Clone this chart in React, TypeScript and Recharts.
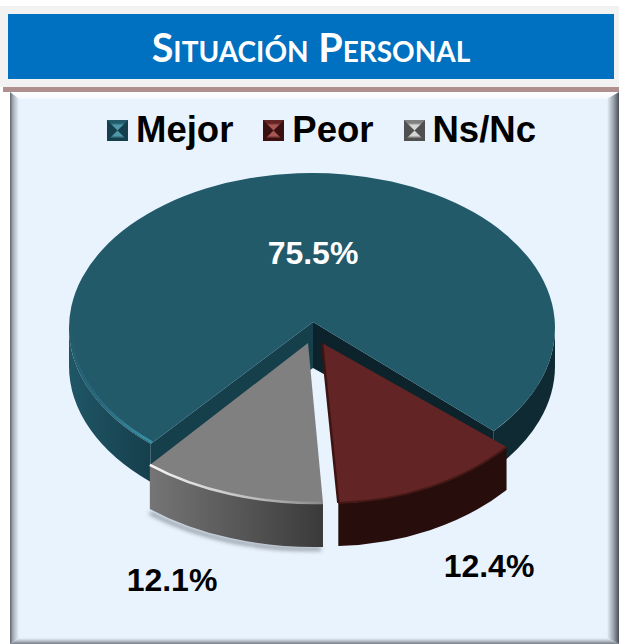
import React from "react";
import { PieChart, Pie, Cell, Legend } from "recharts";

const W = 619;
const H = 644;

const categories = ["Mejor", "Peor", "Ns/Nc"];
const values = [75.5, 12.4, 12.1];
const topColors = ["#225A6A", "#622424", "#808080"];
const legendLight = ["#4F98AA", "#A85654", "#D4D4D4"];
const legendDark = ["#153F4C", "#3A1110", "#505050"];

const chartData = categories.map((name, i) => ({ name, value: values[i] }));

// perspective-corrected outline of each slice, relative to the pie centre
const GEOM = [
  { ax: 1, ay: -6, ex: 0, ey: 0, rx: 243, ry: 155, depth: 38, endTweak: 1.8 },
  { ax: 10, ay: 15, ex: 18, ey: -4, rx: 243, ry: 179, depth: 43, endTweak: 0 },
  { ax: -4, ay: 15, ex: 2.5, ey: 24, rx: 248, ry: 151, depth: 44, endTweak: 0 },
];
const LABEL_OFFSET = [
  { dx: 1, dy: -75, fill: "#FFFFFF" },
  { dx: 177, dy: 238, fill: "#000000" },
  { dx: -140, dy: 252, fill: "#000000" },
];

type G = { cx: number; cy: number; rx: number; ry: number };
const pt = (g: G, a: number): [number, number] => {
  const r = (a * Math.PI) / 180;
  return [g.cx + g.rx * Math.cos(r), g.cy - g.ry * Math.sin(r)];
};
const arcTo = (g: G, a1: number, a2: number, dy = 0) => {
  const [x, y] = pt(g, a2);
  const large = Math.abs(a1 - a2) > 180 ? 1 : 0;
  const sweep = a1 > a2 ? 1 : 0;
  return `A ${g.rx} ${g.ry} 0 ${large} ${sweep} ${x} ${y + dy}`;
};
const wall = (g: G, a1: number, a2: number, d: number) => {
  const [x1, y1] = pt(g, a1);
  const [x2, y2] = pt(g, a2);
  return `M ${x1} ${y1} ${arcTo(g, a1, a2)} L ${x2} ${y2 + d} ${arcTo(g, a2, a1, d)} Z`;
};

const SliceShape = (props: any) => {
  const { cx, cy, startAngle, fill } = props;
  const index = categories.indexOf(props.name ?? props.payload?.name);
  const s = GEOM[index];
  const endAngle = props.endAngle + s.endTweak;
  const g: G = { cx: cx + s.ex, cy: cy + s.ey, rx: s.rx, ry: s.ry };
  const apex: [number, number] = [cx + s.ax, cy + s.ay];
  const [sx, sy] = pt(g, startAngle);
  const [ex, ey] = pt(g, endAngle);
  const top = `M ${apex[0]} ${apex[1]} L ${sx} ${sy} ${arcTo(g, startAngle, endAngle)} Z`;

  if (index === 0) {
    const inset: G = { ...g, rx: g.rx - 2, ry: g.ry - 2 };
    const [hx, hy] = pt(inset, startAngle);
    return (
      <g>
        <defs>
          <linearGradient id="mainLeft" x1="0" x2="1" y1="0" y2="0">
            <stop offset="0" stopColor="#1F5666" />
            <stop offset="1" stopColor="#163F4C" />
          </linearGradient>
          <linearGradient id="mainHi" x1="1" x2="0" y1="1" y2="0">
            <stop offset="0" stopColor="#3A93AA" />
            <stop offset="0.45" stopColor="#2A6C80" />
            <stop offset="1" stopColor="#225A6A" />
          </linearGradient>
          <filter id="soft" x="-5%" y="-5%" width="110%" height="110%">
            <feGaussianBlur stdDeviation="0.7" />
          </filter>
        </defs>
        <path d={wall(g, startAngle, 180, s.depth)} fill="url(#mainLeft)" />
        <path d={wall(g, 0, endAngle, s.depth)} fill="#0F2A33" />
        <path
          d={`M ${apex[0]} ${apex[1]} L ${sx} ${sy} L ${sx} ${sy + s.depth} L ${apex[0]} ${apex[1] + 46} Z`}
          fill="#163F4C"
        />
        <path
          d={`M ${apex[0]} ${apex[1]} L ${ex} ${ey} L ${ex} ${ey + s.depth} L ${apex[0]} ${apex[1] + 46} Z`}
          fill="#0C232B"
        />
        <path d={top} fill={fill} />
        <path
          d={`M ${hx} ${hy} ${arcTo(inset, startAngle, 178)}`}
          fill="none"
          stroke="url(#mainHi)"
          strokeWidth={2.5}
          filter="url(#soft)"
        />
      </g>
    );
  }

  if (index === 1) {
    return (
      <g>
        <path d={wall(g, startAngle, endAngle, s.depth)} fill="#270D0B" />
        <path d={top} fill={fill} />
        <path
          d={`M ${apex[0]} ${apex[1]} L ${ex} ${ey}`}
          stroke="#3C1412"
          strokeWidth={2.5}
          fill="none"
        />
        <path
          d={`M ${sx} ${sy} ${arcTo(g, startAngle, endAngle)}`}
          stroke="#451917"
          strokeWidth={2}
          fill="none"
        />
      </g>
    );
  }

  return (
    <g>
      <defs>
        <linearGradient id="graySide" x1="0" x2="1" y1="0" y2="0">
          <stop offset="0" stopColor="#757575" />
          <stop offset="0.5" stopColor="#585858" />
          <stop offset="1" stopColor="#3A3A3A" />
        </linearGradient>
        <linearGradient id="grayHi" x1="0" x2="1" y1="0" y2="0">
          <stop offset="0" stopColor="#F5F5F5" />
          <stop offset="0.6" stopColor="#BDBDBD" />
          <stop offset="1" stopColor="#8A8A8A" />
        </linearGradient>
        <filter id="grayShadow" x="-10%" y="-50%" width="120%" height="200%">
          <feGaussianBlur stdDeviation="2" />
        </filter>
        <filter id="graySoft" x="-5%" y="-20%" width="110%" height="140%">
          <feGaussianBlur stdDeviation="0.7" />
        </filter>
      </defs>
      <path
        d={`M ${sx - 2} ${sy + s.depth + 2} ${arcTo(g, startAngle, endAngle, s.depth + 4)}`}
        fill="none"
        stroke="#5A6068"
        strokeOpacity={0.75}
        strokeWidth={3}
        filter="url(#grayShadow)"
      />
      <path d={wall(g, startAngle, endAngle, s.depth)} fill="url(#graySide)" />
      <path d={top} fill={fill} />
      <path
        d={`M ${sx} ${sy} ${arcTo(g, startAngle, endAngle)}`}
        stroke="url(#grayHi)"
        strokeWidth={2.5}
        fill="none"
        filter="url(#graySoft)"
      />
    </g>
  );
};

const renderLabel = (props: any) => {
  const { cx, cy, value, index } = props;
  const o = LABEL_OFFSET[index];
  return (
    <text
      x={cx + o.dx}
      y={cy + o.dy}
      fill={o.fill}
      textAnchor="middle"
      dominantBaseline="central"
      fontFamily="'Liberation Sans', Arial, sans-serif"
      fontWeight={700}
      fontSize={32}
    >
      {`${Number(value).toFixed(1)}%`}
    </text>
  );
};

const LegendIcon = ({ i }: { i: number }) => {
  const id = `li${i}`;
  return (
    <svg width={21} height={21} style={{ display: "block" }}>
      <defs>
        <linearGradient id={`${id}t`} x1="0" x2="0" y1="0" y2="1">
          <stop offset="0" stopColor={topColors[i]} />
          <stop offset="0.3" stopColor={topColors[i]} />
          <stop offset="0.5" stopColor={legendLight[i]} />
        </linearGradient>
        <linearGradient id={`${id}b`} x1="0" x2="0" y1="1" y2="0">
          <stop offset="0" stopColor={legendDark[i]} />
          <stop offset="0.25" stopColor={legendDark[i]} />
          <stop offset="0.5" stopColor={legendLight[i]} />
        </linearGradient>
      </defs>
      <rect width={21} height={21} fill={legendDark[i]} />
      <polygon points="0,0 21,0 10.5,10.5" fill={`url(#${id}t)`} />
      <polygon points="0,21 21,21 10.5,10.5" fill={`url(#${id}b)`} />
    </svg>
  );
};

const renderLegend = (props: any) => {
  const items = props.payload ?? [];
  return (
    <div style={{ display: "flex", justifyContent: "center", alignItems: "center", gap: 30 }}>
      {items.map((it: any) => (
        <div key={it.value} style={{ display: "flex", alignItems: "center", gap: 8 }}>
          <LegendIcon i={categories.indexOf(it.value)} />
          <span
            style={{
              fontFamily: "'Liberation Sans', Arial, sans-serif",
              fontWeight: 700,
              fontSize: 36.5,
              lineHeight: "40px",
              color: "#000",
            }}
          >
            {it.value}
          </span>
        </div>
      ))}
    </div>
  );
};

const box = (s: React.CSSProperties): React.CSSProperties => ({ position: "absolute", ...s });

export default function App() {
  return (
    <div style={box({ left: 0, top: 0, width: W, height: H, overflow: "hidden", background: "#FFFFFF" })}>
      <div style={box({ left: 0, top: 6, width: W, height: 81, background: "#F2F2F2" })} />
      <div
        style={box({
          left: 8,
          top: 14,
          width: 606,
          height: 65,
          background: "#0070C0",
          color: "#FFFFFF",
          textAlign: "center",
          fontFamily: "Lato, sans-serif",
          fontWeight: 700,
          fontSize: 39.5,
          lineHeight: "66px",
          fontVariant: "small-caps",
        })}
      >
        Situación Personal
      </div>
      <div style={box({ left: 3, top: 87, width: 616, height: 5, background: "#B08F8F" })} />
      <div style={box({ left: 10, top: 92, width: 609, height: 552, background: "#E8F3FE" })} />
      <div
        style={box({
          left: 10,
          top: 92,
          width: 609,
          height: 7,
          background: "linear-gradient(#FFFFFF,#F4F9FF)",
          clipPath: "polygon(0 0,100% 0,calc(100% - 12px) 100%,9px 100%)",
        })}
      />
      <div
        style={box({
          left: 10,
          top: 92,
          width: 9,
          height: 552,
          background: "linear-gradient(90deg,#5F6670,#A8AEB6 35%,#E8F3FE)",
          clipPath: "polygon(0 0,100% 7px,100% calc(100% - 6px),0 100%)",
        })}
      />
      <div
        style={box({
          left: 607,
          top: 92,
          width: 12,
          height: 552,
          background: "linear-gradient(270deg,#4A4F57,#9AA1AA 45%,#E8F3FE)",
          clipPath: "polygon(0 7px,100% 0,100% 100%,0 calc(100% - 6px))",
        })}
      />
      <div
        style={box({
          left: 10,
          top: 638,
          width: 609,
          height: 6,
          background: "linear-gradient(0deg,#767C85,#C4CAD2 60%,#E8F3FE)",
          clipPath: "polygon(9px 0,calc(100% - 12px) 0,100% 100%,0 100%)",
        })}
      />
      <div style={box({ left: 0, top: 0 })}>
        <PieChart width={W} height={H} margin={{ top: 0, right: 0, bottom: 0, left: 0 }}>
          <Legend
            content={renderLegend}
            itemSorter={null}
            wrapperStyle={{ position: "absolute", top: 110, left: 12, width: W, height: 40 }}
          />
          <Pie
            data={chartData}
            dataKey="value"
            nameKey="name"
            cx={312}
            cy={328}
            outerRadius={243}
            startAngle={228.4}
            endAngle={-131.6}
            stroke="none"
            shape={SliceShape}
            label={renderLabel}
            labelLine={false}
            isAnimationActive={false}
          >
            {chartData.map((d, i) => (
              <Cell key={d.name} fill={topColors[i]} />
            ))}
          </Pie>
        </PieChart>
      </div>
    </div>
  );
}
